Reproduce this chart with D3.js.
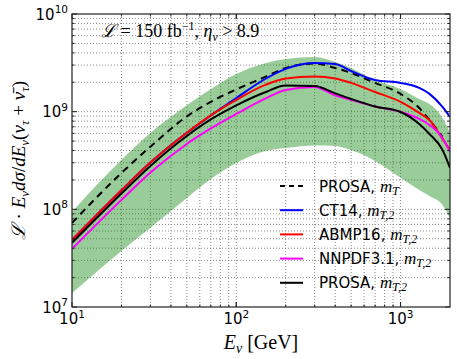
<!DOCTYPE html>
<html><head><meta charset="utf-8">
<script src="https://cdn.jsdelivr.net/npm/d3@7"></script>
<style>body{margin:0;background:#fff} svg{display:block}</style>
</head><body><svg id="c" width="457" height="359"></svg>
<script>
// ---- data (E in GeV, values = L * E dσ/dE) ----
const energies = [10,20,30,50,70,100,150,200,300,400,500,700,1000,1300,1500,1800,2000];
const prosaMT   = [7.26e7,2.36e8,4.38e8,8.93e8,1.26e9,1.69e9,2.27e9,2.80e9,3.11e9,2.80e9,2.49e9,1.97e9,1.52e9,1.09e9,8.22e8,5.51e8];
const ct14      = [4.86e7,1.57e8,3.01e8,6.08e8,9.15e8,1.38e9,2.16e9,2.74e9,3.15e9,3.08e9,2.61e9,2.11e9,1.97e9,1.75e9,1.52e9,1.12e9,8.83e8];
const abmp16    = [4.86e7,1.57e8,3.01e8,6.08e8,9.15e8,1.32e9,1.88e9,2.19e9,2.29e9,2.19e9,1.97e9,1.59e9,1.26e9,9.70e8,8.22e8,5.26e8,4.06e8];
const nnpdf31   = [3.94e7,1.25e8,2.38e8,4.67e8,6.73e8,9.47e8,1.36e9,1.67e9,1.79e9,1.47e9,1.32e9,1.13e9,9.93e8,8.42e8,7.31e8,5.38e8,3.87e8];
const prosaMT2  = [4.53e7,1.45e8,2.78e8,5.64e8,8.32e8,1.16e9,1.58e9,1.85e9,1.83e9,1.54e9,1.35e9,1.13e9,9.93e8,7.48e8,5.91e8,4.06e8,2.66e8];
const bandUpper = [9.40e7,3.21e8,6.05e8,1.16e9,1.71e9,2.43e9,3.13e9,3.46e9,3.63e9,3.23e9,2.80e9,2.08e9,1.71e9,1.35e9,1.20e9,8.63e8,6.05e8];
const bandLower = [1.39e7,3.75e7,6.46e7,1.31e8,2.05e8,2.99e8,3.96e8,4.25e8,4.51e8,4.46e8,4.06e8,3.13e8,2.10e8,1.58e8,1.37e8,1.11e8,8.17e7];
const xTickExps = [1,2,3];
const yTickExps = [7,8,9,10];
const legendItems = [
  {name:"PROSA, ", sub:"T", color:"#000", dash:"7,5", data:prosaMT},
  {name:"CT14, ", sub:"T,2", color:"#0000ff", dash:null, data:ct14},
  {name:"ABMP16, ", sub:"T,2", color:"#ff0000", dash:null, data:abmp16},
  {name:"NNPDF3.1, ", sub:"T,2", color:"#ff00ff", dash:null, data:nnpdf31},
  {name:"PROSA, ", sub:"T,2", color:"#000", dash:null, data:prosaMT2}
];

const svg = d3.select("#c");
const L=72, R=450, T=14, B=307;
const x = d3.scaleLog().domain([10,2000]).range([L,R]);
const y = d3.scaleLog().domain([1e7,1e10]).range([B,T]);
const SANS = "DejaVu Sans, sans-serif";
const SERIF = "Liberation Serif, DejaVu Serif, serif";

svg.append("defs").append("clipPath").attr("id","clip")
  .append("rect").attr("x",L).attr("y",T).attr("width",R-L).attr("height",B-T);

// grid
const xGrid = [];
for (let k=1;k<=3;k++) for (let m=1;m<=9;m++){ const v=m*Math.pow(10,k); if(v>10 && v<2000) xGrid.push(v); }
const yGrid = [];
for (let k=7;k<=9;k++) for (let m=1;m<=9;m++){ const v=m*Math.pow(10,k); if(v>1e7) yGrid.push(v); }
const g = svg.append("g");
g.selectAll(".gx").data(xGrid).enter().append("line")
  .attr("x1",d=>x(d)).attr("x2",d=>x(d)).attr("y1",T).attr("y2",B)
  .attr("stroke","#8a8a8a").attr("stroke-width",1).attr("stroke-dasharray","1,2");
g.selectAll(".gy").data(yGrid.filter(v=>v<1e10)).enter().append("line")
  .attr("x1",L).attr("x2",R).attr("y1",d=>y(d)).attr("y2",d=>y(d))
  .attr("stroke","#8a8a8a").attr("stroke-width",1).attr("stroke-dasharray","1,2");

const plot = svg.append("g").attr("clip-path","url(#clip)");
// band
const bandData = energies.map((e,i)=>({e, lo:bandLower[i], hi:bandUpper[i]}));
plot.append("path").datum(bandData)
  .attr("d", d3.area().x(d=>x(d.e)).y0(d=>y(d.lo)).y1(d=>y(d.hi)).curve(d3.curveMonotoneX))
  .attr("fill","#008000").attr("fill-opacity",0.4);

const line = d3.line().x(d=>x(d[0])).y(d=>y(d[1])).curve(d3.curveMonotoneX);
legendItems.forEach(it=>{
  plot.append("path").datum(it.data.map((v,i)=>[energies[i],v]))
    .attr("d",line).attr("fill","none").attr("stroke",it.color)
    .attr("stroke-width",2).attr("stroke-dasharray",it.dash);
});

// frame
svg.append("rect").attr("x",L).attr("y",T).attr("width",R-L).attr("height",B-T)
  .attr("fill","none").attr("stroke","#222").attr("stroke-width",1.2);

// ticks (inward, all sides)
const tk = svg.append("g").attr("stroke","#222").attr("stroke-width",1);
xGrid.concat([10,100,1000]).forEach(v=>{
  const major = [10,100,1000].includes(v); const len = major?5:2.5;
  tk.append("line").attr("x1",x(v)).attr("x2",x(v)).attr("y1",B).attr("y2",B-len);
  tk.append("line").attr("x1",x(v)).attr("x2",x(v)).attr("y1",T).attr("y2",T+len);
});
yGrid.concat([1e7,1e10]).forEach(v=>{
  const e=Math.log10(v); const major=Math.abs(e-Math.round(e))<1e-9; const len=major?5:2.5;
  tk.append("line").attr("y1",y(v)).attr("y2",y(v)).attr("x1",L).attr("x2",L+len);
  tk.append("line").attr("y1",y(v)).attr("y2",y(v)).attr("x1",R).attr("x2",R-len);
});

// tick labels
xTickExps.forEach(k=>{
  const t = svg.append("text").attr("x",x(Math.pow(10,k))).attr("y",B+17)
    .attr("text-anchor","middle").attr("font-family",SANS).attr("font-size",15).attr("fill","#000");
  t.append("tspan").text("10");
  t.append("tspan").attr("font-size",10.5).attr("dy",-6.5).text(k);
});
yTickExps.forEach(k=>{
  const t = svg.append("text").attr("x",68).attr("y",y(Math.pow(10,k))+5.5)
    .attr("text-anchor","end").attr("font-family",SANS).attr("font-size",15).attr("fill","#000");
  t.append("tspan").text("10");
  t.append("tspan").attr("font-size",10.5).attr("dy",-6.5).text(k);
});

// x label
const xl = svg.append("text").attr("x",(L+R)/2).attr("y",349).attr("text-anchor","middle")
  .attr("font-family",SERIF).attr("font-size",20);
xl.append("tspan").attr("font-style","italic").text("E");
xl.append("tspan").attr("font-style","italic").attr("font-size",14).attr("dy",4).text("ν");
xl.append("tspan").attr("dy",-4).text(" [GeV]");

// y label
const yl = svg.append("text").attr("transform",`translate(25,${(T+B)/2}) rotate(-90)`)
  .attr("text-anchor","middle").attr("font-family",SERIF).attr("font-size",19);
yl.append("tspan").attr("font-style","italic").text("ℒ");
yl.append("tspan").text(" · ");
yl.append("tspan").attr("font-style","italic").text("E");
yl.append("tspan").attr("font-style","italic").attr("font-size",13).attr("dy",4).text("ν");
yl.append("tspan").attr("font-style","italic").attr("dy",-4).text("dσ");
yl.append("tspan").text("/");
yl.append("tspan").attr("font-style","italic").text("dE");
yl.append("tspan").attr("font-style","italic").attr("font-size",13).attr("dy",4).text("ν");
yl.append("tspan").attr("dy",-4).text("(");
yl.append("tspan").attr("font-style","italic").text("ν");
yl.append("tspan").attr("font-style","italic").attr("font-size",13).attr("dy",4).text("τ");
yl.append("tspan").attr("dy",-4).text(" + ");
yl.append("tspan").attr("font-style","italic").text("ν̄");
yl.append("tspan").attr("font-style","italic").attr("font-size",13).attr("dy",4).text("τ");
yl.append("tspan").attr("dy",-4).text(")");

// annotation
const an = svg.append("text").attr("x",101).attr("y",37).attr("font-family",SERIF).attr("font-size",18);
an.append("tspan").attr("font-style","italic").text("ℒ");
an.append("tspan").text(" = 150 fb");
an.append("tspan").attr("font-size",12).attr("dy",-7).text("−1");
an.append("tspan").attr("dy",7).text(", ");
an.append("tspan").attr("font-style","italic").text("η");
an.append("tspan").attr("font-style","italic").attr("font-size",12).attr("dy",4).text("ν");
an.append("tspan").attr("dy",-4).text(" > 8.9");

// legend
const lg = svg.append("g");
legendItems.forEach((it,i)=>{
  const cy = 186 + i*24.2;
  lg.append("line").attr("x1",280).attr("x2",303).attr("y1",cy).attr("y2",cy)
    .attr("stroke",it.color).attr("stroke-width",2).attr("stroke-dasharray",it.dash?"5,4":null);
  const t = lg.append("text").attr("x",319).attr("y",cy+5.5).attr("font-family",SANS).attr("font-size",15);
  t.append("tspan").text(it.name);
  t.append("tspan").attr("font-family",SERIF).attr("font-style","italic").attr("font-size",17).text("m");
  t.append("tspan").attr("font-family",SERIF).attr("font-style","italic").attr("font-size",12).attr("dy",3).text(it.sub);
});
</script></body></html>
